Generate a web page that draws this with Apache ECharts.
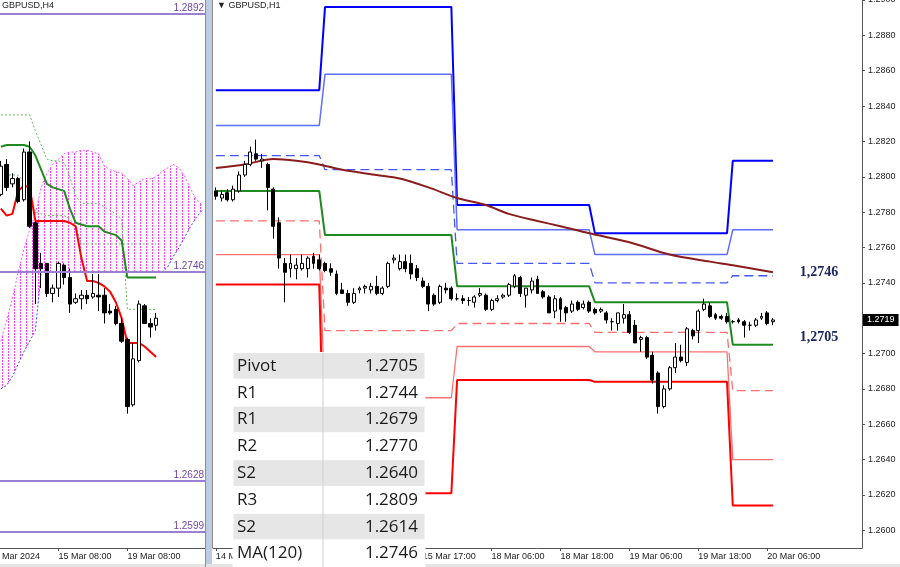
<!DOCTYPE html>
<html><head><meta charset="utf-8">
<script src="https://cdn.jsdelivr.net/npm/echarts@6/dist/echarts.min.js"></script>
<style>html,body{margin:0;padding:0;background:#fff}#c{width:900px;height:567px}</style>
</head><body><div id="c"></div>
<script>
// ===== H1 (right panel) candles, bar index 0 = 14 Mar 05:00 =====
const h1Open  = [1.2792,1.2788,1.2791,1.2787,1.2792,1.2801,1.2807,1.2813,1.2809,1.2807,1.2793,1.2774,1.2751,1.2748,1.2748,1.2748,1.2748,1.2755,1.2753,1.2751,1.2748,1.2745,1.2736,1.2734,1.2729,1.2736,1.2737,1.2736,1.2738,1.2734,1.2738,1.2753,1.2748,1.2752,1.2751,1.2748,1.2741,1.2738,1.2733,1.2729,1.2737,1.2737,1.2731,1.2731,1.2730,1.2729,1.2733,1.2733,1.2725,1.2730,1.2732,1.2733,1.2738,1.2743,1.2733,1.2736,1.2742,1.2735,1.2732,1.2724,1.2731,1.2726,1.2724,1.2729,1.2726,1.2729,1.2725,1.2724,1.2723,1.2718,1.2717,1.2720,1.2722,1.2716,1.2708,1.2709,1.2699,1.2689,1.2670,1.2680,1.2692,1.2698,1.2695,1.2713,1.2713,1.2725,1.2727,1.2722,1.2721,1.2721,1.2718,1.2719,1.2718,1.2716,1.2716,1.2720,1.2723,1.2718];
const h1Close = [1.2789,1.2790,1.2787,1.2793,1.2801,1.2807,1.2814,1.2810,1.2810,1.2794,1.2772,1.2754,1.2746,1.2751,1.2750,1.2751,1.2754,1.2751,1.2748,1.2747,1.2746,1.2734,1.2734,1.2729,1.2734,1.2737,1.2738,1.2738,1.2734,1.2737,1.2751,1.2754,1.2752,1.2748,1.2745,1.2743,1.2738,1.2728,1.2728,1.2738,1.2736,1.2731,1.2731,1.2730,1.2730,1.2732,1.2734,1.2725,1.2730,1.2731,1.2733,1.2739,1.2744,1.2734,1.2737,1.2741,1.2734,1.2732,1.2723,1.2731,1.2725,1.2723,1.2728,1.2725,1.2728,1.2724,1.2723,1.2725,1.2719,1.2718,1.2723,1.2722,1.2712,1.2706,1.2709,1.2698,1.2685,1.2670,1.2680,1.2692,1.2698,1.2696,1.2714,1.2710,1.2724,1.2728,1.2721,1.2720,1.2720,1.2718,1.2718,1.2718,1.2716,1.2716,1.2719,1.2721,1.2717,1.2719];
const h1Low   = [1.2787,1.2786,1.2786,1.2786,1.2791,1.2800,1.2806,1.2809,1.2805,1.2781,1.2765,1.2748,1.2729,1.2743,1.2742,1.2747,1.2743,1.2748,1.2747,1.2746,1.2744,1.2733,1.2734,1.2727,1.2728,1.2734,1.2734,1.2734,1.2733,1.2733,1.2737,1.2751,1.2747,1.2746,1.2742,1.2741,1.2737,1.2724,1.2727,1.2728,1.2734,1.2730,1.2730,1.2728,1.2727,1.2726,1.2732,1.2724,1.2724,1.2729,1.2731,1.2732,1.2737,1.2732,1.2726,1.2734,1.2734,1.2731,1.2723,1.2720,1.2718,1.2718,1.2723,1.2724,1.2725,1.2723,1.2722,1.2723,1.2717,1.2713,1.2713,1.2717,1.2711,1.2706,1.2701,1.2697,1.2683,1.2666,1.2669,1.2679,1.2689,1.2695,1.2693,1.2708,1.2706,1.2724,1.2720,1.2719,1.2719,1.2717,1.2717,1.2717,1.2709,1.2713,1.2715,1.2719,1.2716,1.2716];
const h1High  = [1.2794,1.2792,1.2793,1.2795,1.2803,1.2809,1.2817,1.2821,1.2813,1.2808,1.2794,1.2777,1.2754,1.2756,1.2754,1.2756,1.2755,1.2757,1.2756,1.2752,1.2751,1.2747,1.2740,1.2736,1.2737,1.2738,1.2739,1.2740,1.2744,1.2738,1.2752,1.2756,1.2756,1.2756,1.2756,1.2750,1.2743,1.2740,1.2734,1.2739,1.2740,1.2738,1.2734,1.2733,1.2732,1.2733,1.2737,1.2734,1.2731,1.2733,1.2734,1.2740,1.2745,1.2744,1.2737,1.2743,1.2744,1.2736,1.2733,1.2733,1.2732,1.2727,1.2730,1.2730,1.2730,1.2730,1.2726,1.2726,1.2724,1.2720,1.2723,1.2728,1.2724,1.2719,1.2710,1.2710,1.2701,1.2690,1.2682,1.2693,1.2706,1.2705,1.2715,1.2714,1.2725,1.2731,1.2729,1.2723,1.2722,1.2723,1.2719,1.2720,1.2719,1.2718,1.2720,1.2723,1.2724,1.2720];

// ===== Daily pivot levels (H1 panel) =====
const dayStart = [0, 19, 42, 66, 90];
const lastBar  = 97;
const lvlR3 = [1.2849, 1.2896, 1.2784, 1.2768, 1.2809];
const lvlR2 = [1.2829, 1.2858, 1.2770, 1.2756, 1.2770];
const lvlR1 = [1.2812, 1.2804, 1.2751, 1.2740, 1.2744];
const lvlPP = [1.2792, 1.2767, 1.2738, 1.2729, 1.2705];
const lvlS1 = [1.2775, 1.2713, 1.2717, 1.2712, 1.2679];
const lvlS2 = [1.2756, 1.2675, 1.2704, 1.2701, 1.2640];
const lvlS3 = [1.2739, 1.2621, 1.2685, 1.2684, 1.2614];

// ===== MA(120) read points [bar, value] =====
const maIdx = [0, 5, 10, 14, 18, 22, 28, 32, 37, 42, 47, 51, 56, 60, 65, 72, 79, 86, 90, 97];
const maVal = [1.2805,1.2807,1.2810,1.2809,1.2807,1.2804,1.2801,1.2799,1.2794,1.2788,1.2784,1.2779,1.2775,1.2772,1.2768,1.2763,1.2756,1.2752,1.2750,1.2746];

// ===== H4 (left panel) candles =====
const h4Open  = [1.2790,1.2807,1.2796,1.2799,1.2787,1.2814,1.2774,1.2751,1.2751,1.2734,1.2737,1.2750,1.2743,1.2729,1.2731,1.2733,1.2732,1.2733,1.2733,1.2724,1.2725,1.2717,1.2708,1.2671,1.2696,1.2727,1.2717,1.2716];
const h4Close = [1.2806,1.2794,1.2799,1.2786,1.2814,1.2772,1.2748,1.2748,1.2734,1.2737,1.2751,1.2743,1.2728,1.2731,1.2733,1.2731,1.2734,1.2732,1.2723,1.2723,1.2717,1.2707,1.2670,1.2697,1.2728,1.2717,1.2715,1.2720];
const h4Low   = [1.2789,1.2792,1.2794,1.2785,1.2786,1.2771,1.2728,1.2737,1.2732,1.2729,1.2732,1.2739,1.2723,1.2728,1.2725,1.2728,1.2731,1.2724,1.2717,1.2722,1.2716,1.2706,1.2666,1.2670,1.2695,1.2717,1.2709,1.2713];
const h4High  = [1.2809,1.2810,1.2802,1.2800,1.2816,1.2820,1.2775,1.2757,1.2751,1.2739,1.2752,1.2751,1.2748,1.2734,1.2736,1.2736,1.2745,1.2745,1.2737,1.2728,1.2727,1.2720,1.2709,1.2706,1.2730,1.2728,1.2720,1.2723];

// Ichimoku lines (H4)
const tenkan = [1.2782,1.2778,1.2779,1.2792,1.2795,1.2794,1.2775,1.2775,1.2775,1.2775,1.2775,1.2775,1.2774,1.2772,1.2754,1.2741,1.2741,1.2740,1.2738,1.2735,1.2729,1.2720,1.2706,1.2706,1.2706,1.2704,1.2701,1.2698];
const kijun  = [1.2817,1.2818,1.2818,1.2818,1.2818,1.2817,1.2812,1.2804,1.2796,1.2794,1.2793,1.2792,1.2782,1.2774,1.2773,1.2772,1.2772,1.2772,1.2769,1.2768,1.2767,1.2764,1.2743,1.2743,1.2743,1.2743,1.2743,1.2743];
const dotA   = [1.2835,1.2835,1.2835,1.2835,1.2835,1.2835,1.2826,1.2818,1.2810,1.2809,1.2809,1.2808,1.2800,1.2789,1.2785,1.2785,1.2785,1.2785,1.2783,1.2781,1.2779,1.2776,1.2725,1.2725,1.2725,1.2725,1.2725,1.2725];
const dotB   = [1.2801,1.2801,1.2801,1.2801,1.2797,1.2792,1.2780,1.2779,1.2778,1.2778,1.2778,1.2778,1.2776,1.2772,1.2762,1.2762,1.2762,1.2762,1.2762,1.2762,1.2762,1.2762,1.2762,1.2762,1.2762,1.2762,1.2762,1.2762];
const kumoTop    = [1.2707,1.2719,1.2731,1.2746,1.2759,1.2770,1.2779,1.2794,1.2802,1.2807,1.2810,1.2813,1.2814,1.2814,1.2815,1.2815,1.2814,1.2813,1.2806,1.2804,1.2803,1.2802,1.2799,1.2795,1.2797,1.2799,1.2799,1.2800,1.2803,1.2805,1.2807,1.2805,1.2800,1.2793,1.2787,1.2784];
const kumoBottom = [1.2680,1.2682,1.2687,1.2694,1.2701,1.2707,1.2713,1.2746,1.2746,1.2746,1.2746,1.2746,1.2746,1.2746,1.2746,1.2746,1.2746,1.2746,1.2746,1.2746,1.2746,1.2746,1.2746,1.2746,1.2746,1.2746,1.2746,1.2746,1.2746,1.2749,1.2755,1.2760,1.2766,1.2772,1.2777,1.2781];
const h4Levels = [1.2892, 1.2746, 1.2628, 1.2599];

// ===== Axis labels =====
const yTickVals  = [1.2600,1.2620,1.2640,1.2660,1.2680,1.2700,1.2720,1.2740,1.2760,1.2780,1.2800,1.2820,1.2840,1.2860,1.2880,1.2900];
const yLabelVals = [1.2600,1.2620,1.2640,1.2660,1.2680,1.2700,1.2740,1.2760,1.2780,1.2800,1.2820,1.2840,1.2860,1.2880,1.2900];
const h1TickIdx  = [0, 12, 24, 36, 48, 60, 72, 84, 96];
const h1TickText = ['14 Mar 2024','14 Mar 17:00','15 Mar 05:00','15 Mar 17:00','18 Mar 06:00','18 Mar 18:00','19 Mar 06:00','19 Mar 18:00','20 Mar 06:00'];
const h4TickIdx  = [0, 12, 24];
const h4TickText = ['14 Mar 2024','15 Mar 08:00','19 Mar 08:00'];

// ===== Table =====
const tableNames  = ['Pivot','R1','R1','R2','S2','R3','S2','MA(120)'];
const tableValues = ['1.2705','1.2744','1.2679','1.2770','1.2640','1.2809','1.2614','1.2746'];

// annotations
const noteMA = {bar: 105, value: 1.2746, text: '1,2746'};
const notePP = {bar: 105, value: 1.2705, text: '1,2705'};

// ---------------------------------------------------------------
const N1 = 113, N4 = 38, PAD = 2;
const h1Cats = Array.from({length: N1}, (_, i) => String(i));
const h4Cats = Array.from({length: N4}, (_, i) => String(i));
const YMIN = 1.2590, YMAX = 1.2900;
const FONT = 'Liberation Sans, Arial, sans-serif';

function stepLine(levels) {
  const d = [];
  for (let k = 0; k < levels.length; k++) {
    const a = dayStart[k];
    const b = k + 1 < dayStart.length ? dayStart[k + 1] - 1 : lastBar;
    d.push([String(a), levels[k]]);
    d.push([String(b), levels[k]]);
  }
  return d;
}
function lvlSeries(levels, color, width, type) {
  return {type: 'line', xAxisIndex: 1, yAxisIndex: 1, data: stepLine(levels), showSymbol: false, symbol: 'none',
    lineStyle: {color: color, width: width, type: type}, z: 3, silent: true};
}
function h4Line(arr, color, width, type) {
  return {type: 'line', xAxisIndex: 0, yAxisIndex: 0, data: arr.map((v, k) => [String(k + PAD), v]),
    showSymbol: false, symbol: 'none', lineStyle: {color: color, width: width, type: type}, silent: true, z: 3};
}

// hatch pattern for the kumo
const pc = document.createElement('canvas');
pc.width = 6; pc.height = 3;
const pg = pc.getContext('2d');
pg.fillStyle = '#ff3cff';
pg.fillRect(2, 0, 1, 2);

const candleStyle = {color: '#ffffff', color0: '#000000', borderColor: '#000000', borderColor0: '#000000', borderWidth: 1};

const h1Data = h1Open.map((o, i) => [String(i), o, h1Close[i], h1Low[i], h1High[i]]);
const h4Data = h4Open.map((o, k) => [String(k + PAD), o, h4Close[k], h4Low[k], h4High[k]]);
const lastPrice = h1Close[h1Close.length - 1];

const axisLabelBase = {fontSize: 9, color: '#222', fontFamily: FONT};

const graphics = [];
// panel separator
graphics.push({type: 'rect', shape: {x: 206, y: 0, width: 6, height: 567}, style: {fill: '#bccde2'}, z: 50});
graphics.push({type: 'line', shape: {x1: 205.5, y1: 0, x2: 205.5, y2: 567}, style: {stroke: '#8c8c8c', lineWidth: 1}, z: 51});
graphics.push({type: 'line', shape: {x1: 212.5, y1: 0, x2: 212.5, y2: 548}, style: {stroke: '#8c8c8c', lineWidth: 1}, z: 51});
graphics.push({type: 'rect', shape: {x: 0, y: 564, width: 900, height: 3}, style: {fill: '#e4e4e4'}, z: 50});
// titles
graphics.push({type: 'text', x: 2, y: 1, style: {text: 'GBPUSD,H4', font: '9px ' + FONT, fill: '#222'}, z: 60});
graphics.push({type: 'text', x: 217, y: 1, style: {text: '\u25BC GBPUSD,H1', font: '9px ' + FONT, fill: '#222'}, z: 60});
// table
const TX = 233, TY = 352.5, TW = 192, RH = 26.8, CX = 323;
tableNames.forEach((name, r) => {
  const y = TY + r * RH;
  graphics.push({type: 'rect', shape: {x: TX, y: y, width: TW, height: RH}, style: {fill: r % 2 === 0 ? '#e6e6e6' : '#ffffff', stroke: '#ffffff', lineWidth: 1}, z: 100});
  graphics.push({type: 'text', x: TX + 4, y: y + RH / 2, style: {text: name, font: '17px "Open Sans", "Noto Sans", sans-serif', fill: '#1a1a1a', textVerticalAlign: 'middle', verticalAlign: 'middle'}, z: 102});
  graphics.push({type: 'text', x: TX + TW - 7, y: y + RH / 2, style: {text: tableValues[r], font: '17px "Open Sans", "Noto Sans", sans-serif', fill: '#1a1a1a', textAlign: 'right', align: 'right', textVerticalAlign: 'middle', verticalAlign: 'middle'}, z: 102});
});
graphics.push({type: 'line', shape: {x1: CX, y1: TY, x2: CX, y2: 567}, style: {stroke: '#cfcfcf', lineWidth: 1}, z: 101});

const tenkanSeries = h4Line(tenkan, '#ff0000', 2, 'solid');
tenkanSeries.markLine = {symbol: 'none', silent: true, animation: false, precision: 4,
  lineStyle: {color: '#9a7fd2', width: 2, type: 'solid'},
  label: {show: true, position: 'insideEndTop', distance: [1, 1], color: '#7048b0', fontSize: 10, fontFamily: FONT,
    formatter: (p) => Number(p.value).toFixed(4)},
  data: h4Levels.map(v => ({yAxis: v}))};

const maSeries = {type: 'line', xAxisIndex: 1, yAxisIndex: 1, data: maIdx.map((b, j) => [String(b), maVal[j]]), smooth: 0.3,
  showSymbol: false, symbol: 'none', lineStyle: {color: '#8b1c1c', width: 2}, z: 3, silent: true,
  markLine: {symbol: 'none', silent: true, animation: false, precision: 4,
    lineStyle: {color: 'rgba(0,0,0,0)', width: 1, type: 'solid'},
    label: {show: true, position: 'end', distance: 1, formatter: () => lastPrice.toFixed(4),
      backgroundColor: '#000', color: '#fff', fontSize: 9, fontFamily: FONT, padding: [2, 4, 1, 4]},
    data: [{yAxis: lastPrice}]},
  markPoint: {symbol: 'circle', symbolSize: 0, silent: true, animation: false,
    label: {show: true, position: 'inside', color: '#1c2660', fontWeight: 'bold', fontSize: 14,
      fontFamily: 'Liberation Serif, Times New Roman, serif', formatter: (p) => p.name},
    data: [
      {name: noteMA.text, coord: [String(noteMA.bar), noteMA.value]},
      {name: notePP.text, coord: [String(notePP.bar), notePP.value], label: {offset: [0, -7]}}
    ]}};

const option = {
  animation: false,
  backgroundColor: '#ffffff',
  grid: [
    {left: -13.5, top: 0, width: N4 * 5.75, height: 548, outerBoundsMode: 'none', containLabel: false},
    {left: 213, top: 0, width: 649, height: 548, outerBoundsMode: 'none', containLabel: false}
  ],
  xAxis: [
    {type: 'category', gridIndex: 0, data: h4Cats, boundaryGap: true,
      axisLine: {show: true, lineStyle: {color: '#555', width: 1}},
      axisTick: {show: true, alignWithLabel: true, length: 3, interval: (i) => h4TickIdx.includes(i), lineStyle: {color: '#555'}},
      axisLabel: Object.assign({}, axisLabelBase, {interval: (i) => h4TickIdx.includes(i), align: 'left', margin: 4,
        formatter: (v) => { const j = h4TickIdx.indexOf(Number(v)); return j >= 0 ? h4TickText[j] : ''; }}),
      splitLine: {show: false}},
    {type: 'category', gridIndex: 1, data: h1Cats, boundaryGap: true,
      axisLine: {show: true, lineStyle: {color: '#555', width: 1}},
      axisTick: {show: true, alignWithLabel: true, length: 3, interval: (i) => h1TickIdx.includes(i), lineStyle: {color: '#555'}},
      axisLabel: Object.assign({}, axisLabelBase, {interval: (i) => h1TickIdx.includes(i), align: 'left', margin: 4,
        formatter: (v) => { const j = h1TickIdx.indexOf(Number(v)); return j >= 0 ? h1TickText[j] : ''; }}),
      splitLine: {show: false}}
  ],
  yAxis: [
    {type: 'value', gridIndex: 0, position: 'right', min: YMIN, max: YMAX, scale: true,
      axisLine: {show: true, lineStyle: {color: '#8c8c8c'}}, axisTick: {show: false}, axisLabel: {show: false}, splitLine: {show: false}},
    {type: 'value', gridIndex: 1, position: 'right', min: YMIN, max: YMAX, scale: true,
      axisLine: {show: true, lineStyle: {color: '#555'}},
      axisTick: {show: true, length: 3, customValues: yTickVals, lineStyle: {color: '#555'}},
      axisLabel: Object.assign({}, axisLabelBase, {customValues: yLabelVals, margin: 6, formatter: (v) => Number(v).toFixed(4)}),
      splitLine: {show: false}}
  ],
  graphic: {elements: graphics},
  series: [
    // ---- left panel: kumo ----
    {type: 'line', xAxisIndex: 0, yAxisIndex: 0, stack: 'kumo', data: kumoBottom.map((v, k) => [String(k + PAD), v]),
      showSymbol: false, symbol: 'none', lineStyle: {color: '#3a3aff', width: 1, type: [2, 2]}, silent: true, z: 2},
    {type: 'line', xAxisIndex: 0, yAxisIndex: 0, stack: 'kumo', data: kumoTop.map((v, k) => [String(k + PAD), +(v - kumoBottom[k]).toFixed(5)]),
      showSymbol: false, symbol: 'none', lineStyle: {color: '#ff55ff', width: 1, type: [2, 2]},
      areaStyle: {color: {image: pc, repeat: 'repeat'}, opacity: 1}, silent: true, z: 1},
    h4Line(dotA, '#5cb85c', 1, [2, 2]),
    h4Line(dotB, '#5cb85c', 1, [2, 2]),
    tenkanSeries,
    h4Line(kijun, '#1f8a1f', 2, 'solid'),
    {type: 'candlestick', xAxisIndex: 0, yAxisIndex: 0, data: h4Data, encode: {x: 0, y: [1, 2, 3, 4]},
      barWidth: 4, itemStyle: candleStyle, z: 4, silent: true},
    // ---- right panel: pivot levels ----
    lvlSeries(lvlR3, '#0000ff', 2, 'solid'),
    lvlSeries(lvlR2, '#5f6dff', 1.5, 'solid'),
    lvlSeries(lvlR1, '#4457ff', 1.3, [9, 5]),
    lvlSeries(lvlPP, '#1f8a1f', 2, 'solid'),
    lvlSeries(lvlS1, '#ff6f6f', 1.3, [9, 5]),
    lvlSeries(lvlS2, '#ff6f6f', 1.3, 'solid'),
    lvlSeries(lvlS3, '#ff0000', 2, 'solid'),
    maSeries,
    {type: 'candlestick', xAxisIndex: 1, yAxisIndex: 1, data: h1Data, encode: {x: 0, y: [1, 2, 3, 4]},
      barWidth: 3.4, itemStyle: candleStyle, z: 5, silent: true}
  ]
};

const chart = echarts.init(document.getElementById('c'), null, {renderer: 'canvas', width: 900, height: 567});
chart.setOption(option);
</script>
</body></html>
